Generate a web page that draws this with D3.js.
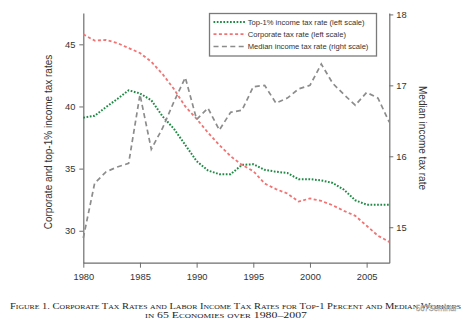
<!DOCTYPE html>
<html>
<head>
<meta charset="utf-8">
<script src="https://cdn.jsdelivr.net/npm/d3@7"></script>
<style>
  body { margin: 0; background: #fff; }
  svg { display: block; }
</style>
</head>
<body>
<div id="chart"></div>
<script>
// tax rates, 1980-2007
var years = d3.range(1980, 2008);
var top1 = [39.1, 39.25, 39.95, 40.6, 41.3, 41.05, 40.5, 39.2, 38.2, 36.9,
            35.6, 34.85, 34.55, 34.55, 35.3, 35.35, 34.9, 34.75, 34.65, 34.15,
            34.15, 34.05, 33.85, 33.3, 32.45, 32.1, 32.1, 32.1];
var corporate = [45.8, 45.3, 45.35, 45.1, 44.7, 44.3, 43.6, 42.6, 41.4, 40.0,
                 39.0, 37.9, 36.9, 36.0, 35.3, 34.8, 33.8, 33.35, 33.0, 32.35,
                 32.6, 32.4, 32.05, 31.6, 31.2, 30.4, 29.6, 29.1];
var median = [14.85, 15.62, 15.78, 15.85, 15.9, 16.87, 16.1, 16.4, 16.77, 17.11,
              16.52, 16.68, 16.37, 16.62, 16.65, 16.98, 17.0, 16.75, 16.82, 16.95,
              17.0, 17.3, 17.03, 16.87, 16.72, 16.9, 16.82, 16.48];

var xTicks = [1980, 1985, 1990, 1995, 2000, 2005];
var leftTicks = [30, 35, 40, 45];
var rightTicks = [15, 16, 17, 18];

var legendLabels = ["Top-1% income tax rate (left scale)",
                    "Corporate tax rate (left scale)",
                    "Median income tax rate (right scale)"];

var W = 472, H = 329;
var m = {top: 13, right: 82.7, bottom: 66.3, left: 83.3};

var svg = d3.select("#chart").append("svg")
    .attr("width", W)
    .attr("height", H);

var x = d3.scaleLinear().domain([1980, 2007]).range([m.left, W - m.right]);
var yL = d3.scaleLinear().domain([27.43, 47.52]).range([H - m.bottom, m.top]);
var yR = d3.scaleLinear().domain([14.5, 18.02]).range([H - m.bottom, m.top]);

var axisCol = "#6e6e6e";
var textCol = "#333";

function styleAxis(g) {
    g.select(".domain").attr("stroke", axisCol).attr("stroke-width", 1.2);
    g.selectAll(".tick line").attr("stroke", axisCol).attr("stroke-width", 1);
    g.selectAll(".tick text").attr("fill", textCol)
        .style("font-family", "Liberation Sans, Arial, sans-serif")
        .style("font-size", "9.3px");
}

svg.append("g")
    .attr("transform", "translate(0," + (H - m.bottom) + ")")
    .call(d3.axisBottom(x).tickValues(xTicks).tickFormat(d3.format("d"))
        .tickSize(5).tickSizeOuter(0).tickPadding(6))
    .call(styleAxis);

svg.append("g")
    .attr("transform", "translate(" + m.left + ",0)")
    .call(d3.axisLeft(yL).tickValues(leftTicks).tickFormat(d3.format("d"))
        .tickSize(4).tickSizeOuter(0).tickPadding(4))
    .call(styleAxis);

svg.append("g")
    .attr("transform", "translate(" + (W - m.right) + ",0)")
    .call(d3.axisRight(yR).tickValues(rightTicks).tickFormat(d3.format("d"))
        .tickSize(4).tickSizeOuter(0).tickPadding(3))
    .call(styleAxis);

// axis titles
svg.append("text")
    .attr("transform", "translate(52,142) rotate(-90)")
    .attr("text-anchor", "middle")
    .attr("fill", textCol)
    .style("font-family", "Liberation Sans, Arial, sans-serif")
    .style("font-size", "10px")
    .text("Corporate and top-1% income tax rates");

svg.append("text")
    .attr("transform", "translate(418.5,138) rotate(90)")
    .attr("text-anchor", "middle")
    .attr("fill", textCol)
    .style("font-family", "Liberation Sans, Arial, sans-serif")
    .style("font-size", "10px")
    .text("Median income tax rate");

// series
var series = [
    {vals: top1, scale: yL, color: "#1e8a44", width: 2, dash: "1.7,1.6"},
    {vals: corporate, scale: yL, color: "#f07474", width: 1.8, dash: "3,2.4"},
    {vals: median, scale: yR, color: "#8c8c8c", width: 1.7, dash: "5,3.4"}
];

series.forEach(function(s) {
    var line = d3.line()
        .x(function(d, i) { return x(years[i]); })
        .y(function(d) { return s.scale(d); });
    svg.append("path")
        .datum(s.vals)
        .attr("d", line)
        .attr("fill", "none")
        .attr("stroke", s.color)
        .attr("stroke-width", s.width)
        .attr("stroke-dasharray", s.dash);
});

// legend
var lg = svg.append("g");
lg.append("rect")
    .attr("x", 209.5).attr("y", 13.5)
    .attr("width", 167).attr("height", 42.5)
    .attr("fill", "#fff")
    .attr("stroke", "#7a7a7a")
    .attr("stroke-width", 1.3);

var rowY = [22, 34.2, 46.5];
series.forEach(function(s, i) {
    lg.append("line")
        .attr("x1", 213.5).attr("x2", 246)
        .attr("y1", rowY[i]).attr("y2", rowY[i])
        .attr("stroke", s.color)
        .attr("stroke-width", s.width)
        .attr("stroke-dasharray", s.dash);
    lg.append("text")
        .attr("x", 247.7).attr("y", rowY[i])
        .attr("dy", "0.35em")
        .attr("fill", textCol)
        .style("font-family", "Liberation Sans, Arial, sans-serif")
        .style("font-size", "7.6px")
        .text(legendLabels[i]);
});

// figure caption
var cap = svg.append("g")
    .attr("fill", "#222")
    .style("font-family", "Liberation Serif, Times New Roman, serif")
    .style("font-variant", "small-caps")
    .style("font-size", "8.2px");

cap.append("text")
    .attr("x", 10).attr("y", 308.5)
    .attr("textLength", 451)
    .attr("lengthAdjust", "spacingAndGlyphs")
    .text("Figure 1. Corporate Tax Rates and Labor Income Tax Rates for Top-1 Percent and Median Workers");

cap.append("text")
    .attr("x", 145).attr("y", 317.5)
    .attr("textLength", 162)
    .attr("lengthAdjust", "spacingAndGlyphs")
    .text("in 65 Economies over 1980–2007");

// watermark
svg.append("text")
    .attr("x", 416).attr("y", 311)
    .attr("textLength", 41)
    .attr("lengthAdjust", "spacingAndGlyphs")
    .attr("fill", "#fff")
    .attr("fill-opacity", 0.85)
    .attr("stroke", "#9a9a9a")
    .attr("stroke-width", 0.5)
    .style("font-family", "Liberation Sans, Arial, sans-serif")
    .style("font-size", "9.5px")
    .text("567Seminar");
</script>
</body>
</html>
